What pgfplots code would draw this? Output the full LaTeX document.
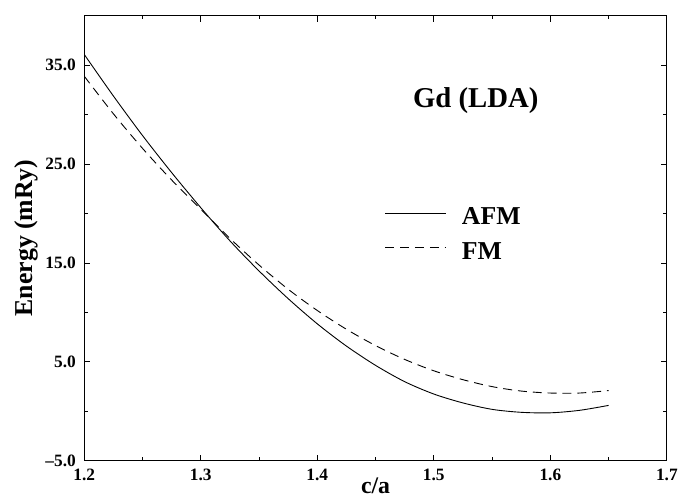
\documentclass[border=0pt]{standalone}
\usepackage{pgfplots}
\pgfplotsset{compat=1.18}
\usepackage{fontspec}
\setmainfont{Liberation Serif}
\pgfplotstableread{
x afm fm
1.200 36.10 33.90
1.225 31.90 30.10
1.250 27.90 26.60
1.275 24.15 23.40
1.300 20.60 20.45
1.325 17.25 17.50
1.350 14.20 14.80
1.375 11.40 12.35
1.400 8.85 10.20
1.425 6.60 8.30
1.450 4.65 6.65
1.475 3.00 5.25
1.500 1.75 4.10
1.525 0.85 3.20
1.550 0.20 2.50
1.575 -0.10 2.05
1.600 -0.15 1.85
1.625 0.10 1.85
1.650 0.60 2.10
}\datatab
\begin{document}
\begin{tikzpicture}
\begin{axis}[
  scale only axis, width=588bp, height=449bp,
  xmin=1.2, xmax=1.7, ymin=-5, ymax=40,
  xtick={1.2,1.3,1.4,1.5,1.6,1.7},
  xticklabels={1.2,1.3,1.4,1.5,1.6,1.7},
  minor xtick={1.25,1.35,1.45,1.55,1.65},
  ytick={-5,5,15,25,35},
  yticklabels={\textendash5.0,5.0,15.0,25.0,35.0},
  minor ytick={0,10,20,30},
  tick align=inside,
  major tick length=6bp, minor tick length=3.5bp,
  axis line style={line width=1bp},
  every tick/.style={black, line width=0.8bp},
  tick label style={font=\fontsize{17.5bp}{17.5bp}\selectfont\bfseries},
  xticklabel style={yshift=-5bp},
  yticklabel style={xshift=-5bp},
  xlabel={c/a},
  ylabel={Energy (mRy)},
  xlabel style={font=\fontsize{24bp}{24bp}\selectfont\bfseries, at={(axis description cs:0.5,-0.056)}, anchor=center},
  ylabel style={font=\fontsize{26bp}{26bp}\selectfont\bfseries, at={(axis description cs:-0.1,0.5)}, anchor=center},
  legend cell align=left,
  legend style={at={(axis cs:1.4577,18.0)}, anchor=west, draw=none, fill=none,
    font=\fontsize{26bp}{26bp}\selectfont\bfseries, inner sep=0pt, row sep=17bp,
    nodes={inner sep=0pt, text height=18bp, text depth=0bp}},
  legend image code/.code={\draw[#1] (0bp,3bp) -- (61bp,3bp); \path (77bp,0bp);},
]
\addplot[black, line width=0.9bp, smooth] table[x=x, y=afm] {\datatab};
\addlegendentry{AFM}
\addplot[black, line width=0.9bp, smooth, dash pattern=on 9bp off 6bp] table[x=x, y=fm] {\datatab};
\addlegendentry{FM}
\node[anchor=base west, font=\fontsize{29bp}{29bp}\selectfont\bfseries, inner sep=0pt] at (axis cs:1.482,30.78) {Gd (LDA)};
\end{axis}
\path (current axis.south west) ++(-85bp,-41bp) rectangle ([shift={(8bp,16bp)}]current axis.north east);
\end{tikzpicture}
\end{document}
